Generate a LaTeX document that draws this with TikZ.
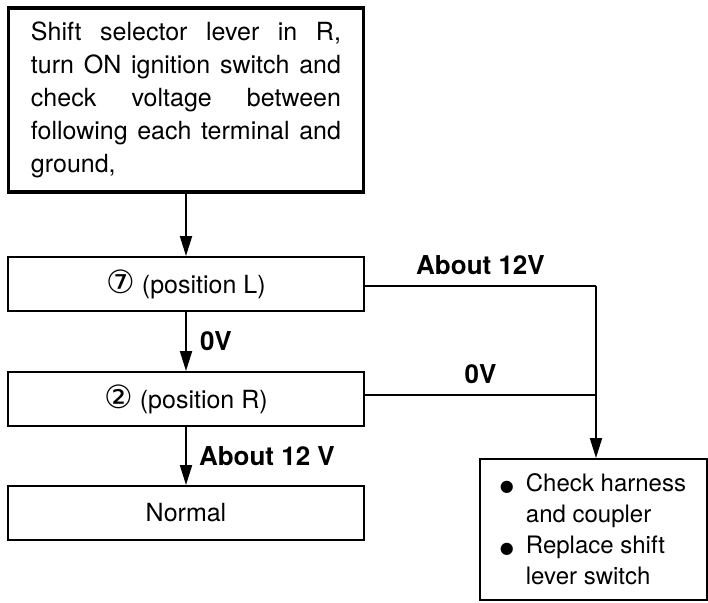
\documentclass[tikz,border=0pt]{standalone}
\usepackage{fontspec}
\setmainfont{TeX Gyre Heros}
\newfontfamily\symfont{DejaVu Sans}
\usetikzlibrary{arrows.meta}
\newcommand{\dotitem}{\makebox[13pt][l]{\symfont\fontsize{8}{8}\selectfont ●}}
\newcommand{\circnum}[1]{{\symfont\fontsize{16}{16}\selectfont #1}}

\begin{document}
\begin{tikzpicture}[x=0.5pt, y=-0.5pt, >={Triangle[length=10pt,width=6pt]},
  every node/.style={font=\fontsize{12.5}{16.5}\selectfont},
  stepbox/.style={draw, line width=1pt, minimum width=178pt, minimum height=27pt,
                  inner sep=0pt},
  flow/.style={->, line width=1pt},
  vlabel/.style={font=\fontsize{13}{16}\selectfont\bfseries, inner sep=0pt},
]
\useasboundingbox (0,0) rectangle (708,602);

% ── start: check instruction ─────────────────────────────
\node[draw, line width=1.6pt, minimum width=177.5pt, minimum height=92pt,
      text width=155pt, align=justify, inner sep=0pt
] (start) at (186,100)
  {Shift selector lever in R,\linebreak
   turn ON ignition switch and\linebreak
   check voltage between\linebreak
   following each terminal and\linebreak
   ground,};

% ── terminal checks ──────────────────────────────────────
\node[stepbox] (posl)   at (186,284) {\circnum{⑦} (position L)};
\node[stepbox] (posr)   at (186,399) {\circnum{②} (position R)};
\node[stepbox] (normal) at (186,513) {Normal};

% ── remedy ───────────────────────────────────────────────
\node[draw, line width=1pt, minimum width=113.5pt, minimum height=70.5pt,
      inner sep=0pt, align=left,
      font=\fontsize{12}{15.5}\selectfont
] (remedy) at (593,529.5)
  {\dotitem Check harness\\
   \hspace*{13pt}and coupler\\
   \dotitem Replace shift\\
   \hspace*{13pt}lever switch};

\coordinate (jl) at (596,286);
\coordinate (jr) at (596,395);

% ── main line ────────────────────────────────────────────
\draw[flow] (start) -- (posl);
\draw[flow] (posl) -- node[vlabel, right, xshift=6.5pt] (lzero) {0V} (posr);
\draw[flow] (posr) -- node[vlabel, right, xshift=6pt] (rtwelve) {About 12 V} (normal);

% ── side branches ────────────────────────────────────────
\draw[line width=1pt] (posl.east |- jl) -- node[vlabel, above=5pt] (ltwelve) {About 12V} (jl);
\draw[line width=1pt] (posr.east |- jr) -- node[vlabel, above=5pt] (rzero) {0V} (jr);
\draw[flow] (jl) -- (jl |- remedy.north);

\end{tikzpicture}
\end{document}
